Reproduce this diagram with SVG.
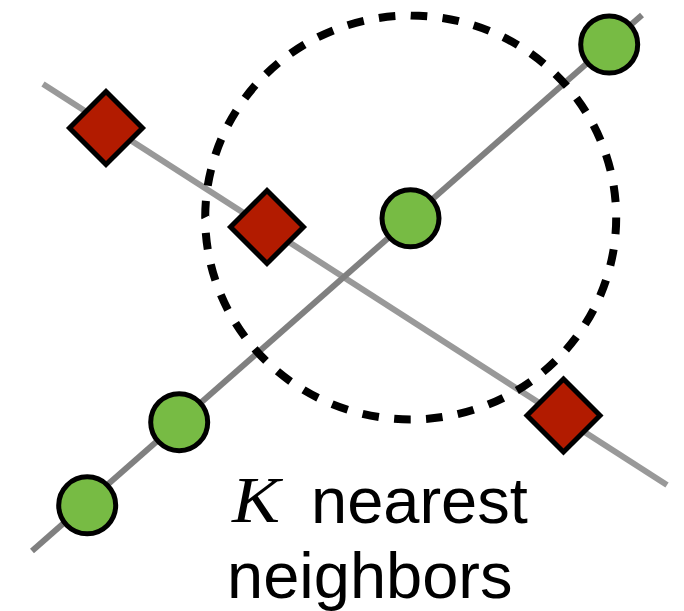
<svg xmlns="http://www.w3.org/2000/svg" width="684" height="611" viewBox="0 0 684 611">
  <style>
    .ln1 { stroke: #999999; stroke-width: 6; fill: none; }
    .ln2 { stroke: #808080; stroke-width: 6; fill: none; }
    .ring { fill: none; stroke: #000; stroke-width: 8; stroke-dasharray: 16.6 15.4; }
    .pos { fill: #77BB44; stroke: #000; stroke-width: 5; }
    .neg { fill: #B21B00; stroke: #000; stroke-width: 5; stroke-linejoin: miter; }
    .lbl { font-family: "Liberation Sans", Arial, sans-serif; font-size: 65px; fill: #000; }
    .kvar { font-family: "Liberation Serif", "DejaVu Serif", serif; font-style: italic; font-size: 65px; fill: #000; }
  </style>
  <rect width="684" height="611" fill="#ffffff"/>
  <g id="connectors">
    <line class="ln1" x1="43" y1="84" x2="667" y2="485"/>
    <line class="ln2" x1="642" y1="15" x2="32" y2="551"/>
  </g>
  <g id="neighborhood">
    <path class="ring" d="M 616.2 217.5 A 205.5 202 0 0 1 205.2 217.5 A 205.5 202 0 0 1 616.2 217.5" pathLength="1280"/>
  </g>
  <g id="neg1"><polygon class="neg" points="106,91.5 142.5,128 106,164.5 69.5,128"/></g>
  <g id="neg2"><polygon class="neg" points="267,190.5 303.5,227 267,263.5 230.5,227"/></g>
  <g id="neg3"><polygon class="neg" points="563.5,379 600,415.5 563.5,452 527,415.5"/></g>
  <g id="pos1"><circle class="pos" cx="609.2" cy="44.5" r="28.5"/></g>
  <g id="pos2"><circle class="pos" cx="410.5" cy="218.3" r="28.5"/></g>
  <g id="pos3"><circle class="pos" cx="179.2" cy="422.2" r="28.5"/></g>
  <g id="pos4"><circle class="pos" cx="87.2" cy="505.3" r="28.5"/></g>
  <g id="label">
    <text class="kvar" x="232" y="522" textLength="48" lengthAdjust="spacingAndGlyphs">K</text>
    <text class="lbl" x="311" y="523">nearest</text>
    <text class="lbl" x="227" y="598">neighbors</text>
  </g>
</svg>
